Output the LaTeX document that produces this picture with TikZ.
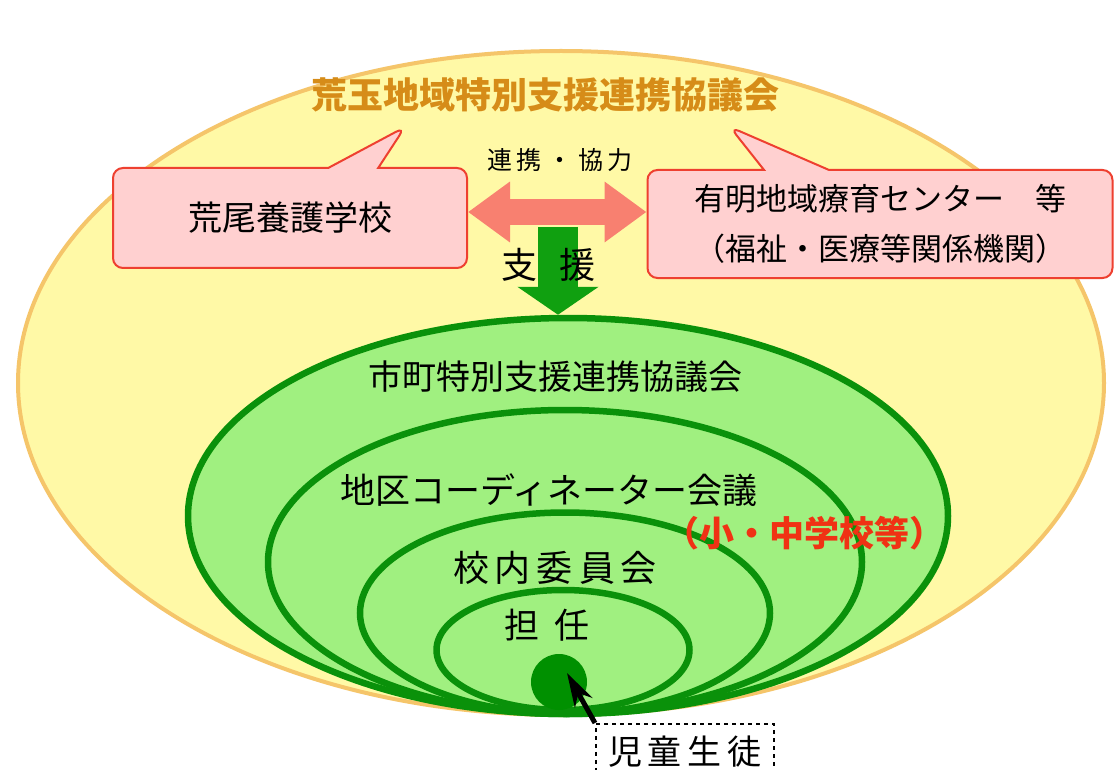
\documentclass[tikz,border=0pt]{standalone}
\usepackage{fontspec}
\setmainfont{Noto Sans CJK JP}
\usetikzlibrary{shapes.geometric, shapes.callouts, arrows.meta, calc}

\definecolor{areayellow}{RGB}{255,249,166}
\definecolor{areaborder}{RGB}{245,197,106}
\definecolor{titleorange}{RGB}{214,140,24}
\definecolor{boxpink}{RGB}{255,208,208}
\definecolor{boxred}{RGB}{238,64,48}
\definecolor{arrowpink}{RGB}{248,128,112}
\definecolor{ringfill}{RGB}{160,240,128}
\definecolor{ringline}{RGB}{10,145,10}
\definecolor{arrowgreen}{RGB}{16,160,16}
\definecolor{dotgreen}{RGB}{0,144,0}
\definecolor{schoolred}{RGB}{240,50,20}

\tikzset{
  ring/.style={ellipse, draw=ringline, fill=ringfill, line width=6.5pt, inner sep=0pt},
  orgbox/.style={rectangle callout, draw=boxred, fill=boxpink, line width=2pt,
    rounded corners=10pt, inner sep=0pt},
  jtext/.style={inner sep=0pt, font=\fontsize{#1}{#1}\selectfont},
}

\begin{document}
\begin{tikzpicture}[x=1pt, y=-1pt]
  \fill[white] (0,0) rectangle (1114,770);
  \useasboundingbox (0,0) rectangle (1114,770);

  % Regional council
  \node[ellipse, draw=areaborder, fill=areayellow, line width=4pt, inner sep=0pt,
    minimum width=1086pt, minimum height=664pt] (area) at (561,383) {};
  \node[inner sep=0pt, text=titleorange, font=\bfseries\fontsize{36}{36}\selectfont]
    (title) at (545,95) {荒玉地域特別支援連携協議会};

  % Partner organisations
  \node[orgbox, minimum width=354pt, minimum height=100pt,
    callout absolute pointer={(405,127)}, callout pointer width=50pt,
    font=\fontsize{34}{34}\selectfont] (arao) at (290,218) {荒尾養護学校};
  \node[orgbox, minimum width=465pt, minimum height=108pt,
    callout absolute pointer={(730,127)}, callout pointer width=65pt,
    align=center, font=\fontsize{31}{50}\selectfont] (ariake) at (880,224)
    {有明地域療育センター　等\\（福祉・医療等関係機関）};
  \node[inner sep=0pt, font=\fontsize{25}{25}\selectfont] (coop) at (560,160) {連\,携\ ・\ 協\,力};
  \draw[arrowpink, line width=26pt, {Triangle[length=42pt,width=58pt]}-{Triangle[length=42pt,width=58pt]}]
    (arao.east |- 0,212) -- (ariake.west |- 0,212);

  % Municipal rings
  \node[ring, minimum width=760pt, minimum height=396pt] (e1) at (568,516) {};
  \coordinate (sTop) at (558,227);
  \draw[arrowgreen, line width=40pt, -{Triangle[length=28pt,width=80pt]}] (sTop) -- (sTop |- e1.north);
  \node[jtext=36] (support) at (548,265) {支\hspace{22pt}援};
  \node[ring, minimum width=594pt, minimum height=304pt] (e2) at (565,562) {};
  \node[ring, minimum width=410pt, minimum height=201pt] (e3) at (565,613) {};
  \node[ring, minimum width=253pt, minimum height=120pt] (e4) at (563,650) {};

  \node[jtext=34] (city) at (555,377) {市町特別支援連携協議会};
  \node[jtext=35] (district) at (549,490) {地区コーディネーター会議};
  \node[inner sep=0pt, text=schoolred, font=\bfseries\fontsize{35}{35}\selectfont]
    (schools) at (804,533) {（小・中学校等）};
  \node[jtext=36] (committee) at (555,568) {校\,内\,委\,員\,会};
  \node[jtext=35] (teacher) at (547,625) {担\hspace{15pt}任};

  % Pupil
  \node[circle, fill=dotgreen, minimum size=56pt, inner sep=0pt] (dot) at (559,682) {};
  \node[draw, dash pattern=on 4pt off 4pt, line width=1.5pt, minimum width=178pt,
    minimum height=56pt, anchor=north west, jtext=34] (pupil) at (595,723) {児\,童\,生\,徒};
  \draw[line width=5pt, -{Stealth[length=34pt,width=20pt]}] (pupil.north west) -- ($(dot.center)+(8,-9)$);
\end{tikzpicture}
\end{document}
